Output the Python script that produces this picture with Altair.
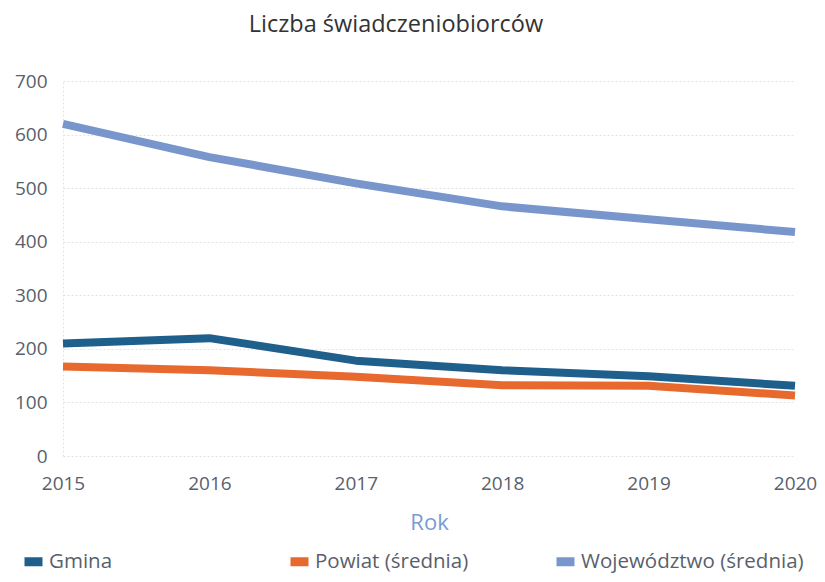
import altair as alt
import pandas as pd

years = [2015, 2016, 2017, 2018, 2019, 2020]
gmina = [210, 220, 178, 160, 149, 131]
powiat = [167, 160, 148, 132, 131, 113]
wojewodztwo = [620, 558, 509, 466, 442, 418]
series_names = ["Gmina", "Powiat (średnia)", "Województwo (średnia)"]
series_colors = ["#1f5f8b", "#e8692d", "#7896cc"]

rows = []
for name, vals in zip(series_names, [gmina, powiat, wojewodztwo]):
    for y, v in zip(years, vals):
        rows.append({"Rok": y, "Wartość": v, "Seria": name})
df = pd.DataFrame(rows)

FONT = "Open Sans"

chart = (
    alt.Chart(df)
    .mark_line(strokeWidth=8, strokeCap="butt", strokeJoin="round")
    .encode(
        x=alt.X(
            "Rok:Q",
            scale=alt.Scale(domain=[2015, 2020], nice=False, zero=False),
            axis=alt.Axis(
                values=years,
                format="d",
                grid=False,
                ticks=False,
                domain=False,
                labelFlush=False,
                labelFontSize=19,
                labelColor="#5a5f6c",
                labelPadding=18,
                labelFont=FONT,
                title="Rok",
                titleFont=FONT,
                titleFontSize=22,
                titleFontWeight="normal",
                titleColor="#7b9bd0",
                titlePadding=19,
            ),
        ),
        y=alt.Y(
            "Wartość:Q",
            scale=alt.Scale(domain=[0, 700], nice=False),
            axis=alt.Axis(
                values=[0, 100, 200, 300, 400, 500, 600, 700],
                grid=True,
                gridColor="#e4e4e4",
                gridDash=[2, 2],
                ticks=False,
                domain=True,
                domainColor="#e4e4e4",
                domainDash=[2, 2],
                labelFontSize=19,
                labelColor="#5a5f6c",
                labelPadding=16,
                labelFont=FONT,
                title=None,
            ),
        ),
        color=alt.Color(
            "Seria:N",
            scale=alt.Scale(domain=series_names, range=series_colors),
            sort=series_names,
            legend=alt.Legend(
                title=None,
                orient="none",
                legendX=-43,
                legendY=467,
                direction="horizontal",
                columns=3,
                gridAlign="all",
                columnPadding=0,
                symbolType="stroke",
                symbolSize=324,
                symbolStrokeWidth=9,
                symbolOffset=0,
                labelFontSize=20.5,
                labelFont=FONT,
                labelColor="#5a5f6c",
                labelOffset=2,
                labelLimit=400,
                padding=0,
            ),
        ),
    )
    .properties(
        width=732,
        height=375,
        background="white",
        autosize=alt.AutoSizeParams(type="none"),
        padding={"left": 55, "top": 73, "right": 22, "bottom": 118},
        title=alt.TitleParams(
            "Liczba świadczeniobiorców",
            font=FONT,
            fontSize=23.5,
            fontWeight="normal",
            color="#333333",
            anchor="middle",
            dx=-33,
            offset=36,
        ),
    )
    .configure_view(stroke=None)
)

chart.save("out.html", embed_options={"renderer": "svg", "actions": False})
